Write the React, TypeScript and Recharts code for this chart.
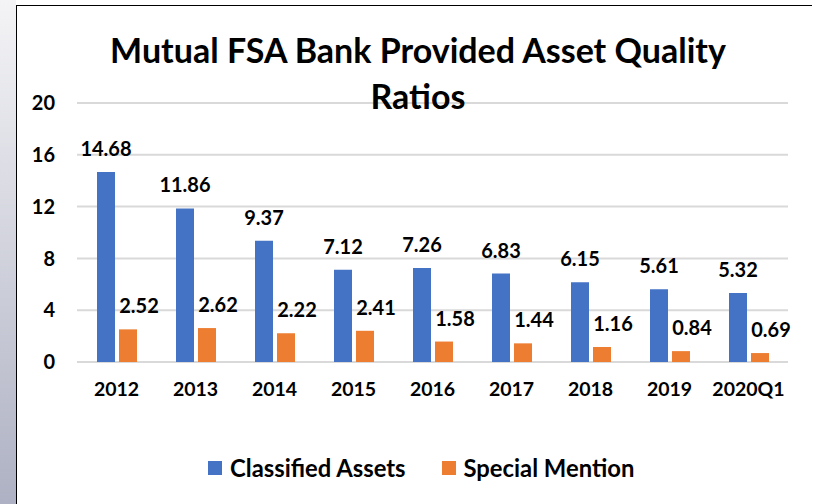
import React from 'react';
import { BarChart, Bar, XAxis, YAxis, CartesianGrid, LabelList } from 'recharts';

const years = ['2012', '2013', '2014', '2015', '2016', '2017', '2018', '2019', '2020Q1'];
const classifiedAssets = [14.68, 11.86, 9.37, 7.12, 7.26, 6.83, 6.15, 5.61, 5.32];
const specialMention = [2.52, 2.62, 2.22, 2.41, 1.58, 1.44, 1.16, 0.84, 0.69];
const yTicks = [0, 4, 8, 12, 16, 20];

const FONT = 'Lato, "Open Sans", sans-serif';
const BLUE = '#4472C4';
const ORANGE = '#ED7D31';

const data = years.map((y, i) => ({
  year: y,
  classified: classifiedAssets[i],
  special: specialMention[i],
}));

// label sits above the bar, orange ones a bit to the right like the original
const makeLabel = (shift: number) => (props: any) => {
  const { x, y, width, value } = props;
  return (
    <text
      x={x + width / 2 + shift}
      y={y - 24}
      textAnchor="middle"
      dominantBaseline="central"
      fontFamily={FONT}
      fontWeight={700}
      fontSize={20}
      fill="#000"
    >
      {value.toFixed(2)}
    </text>
  );
};

export default function App() {
  return (
    <div style={{ position: 'fixed', left: 0, top: 0, width: 813, height: 504, background: '#fff', overflow: 'hidden' }}>
      {/* grey strip on the left + frame */}
      <div
        style={{
          position: 'absolute', left: 0, top: 0, width: 16, height: 504,
          background: 'linear-gradient(#f4f4f6, #aeb1c3)',
        }}
      />
      <div style={{ position: 'absolute', left: 16, top: 5, width: 795, height: 510, borderLeft: '1.5px solid #000', borderTop: '1.5px solid #000' }} />

      <div style={{ position: 'absolute', left: 0, top: 0 }}>
        <BarChart
          width={813}
          height={504}
          data={data}
          margin={{ top: 103, right: 25, bottom: 112, left: 0 }}
          barGap={4}
          barSize={18}
        >
          <CartesianGrid vertical={false} stroke="#d9d9d9" strokeWidth={2} />
          <XAxis
            dataKey="year"
            height={30}
            axisLine={false}
            tickLine={false}
            tick={{ fontFamily: FONT, fontWeight: 700, fontSize: 19.5, fill: '#000' }}
            dy={12}
          />
          <YAxis
            width={77}
            domain={[0, 20]}
            ticks={yTicks}
            axisLine={false}
            tickLine={false}
            tickMargin={16}
            tick={{ fontFamily: FONT, fontWeight: 700, fontSize: 20, fill: '#000' }}
          />
          <Bar dataKey="classified" fill={BLUE} isAnimationActive={false}>
            <LabelList dataKey="classified" content={makeLabel(0)} />
          </Bar>
          <Bar dataKey="special" fill={ORANGE} isAnimationActive={false}>
            <LabelList dataKey="special" content={makeLabel(11)} />
          </Bar>
        </BarChart>
      </div>

      <div
        style={{
          position: 'absolute', left: 16, top: 27, width: 804, textAlign: 'center',
          fontFamily: FONT, fontWeight: 700, fontSize: 34, lineHeight: '46px', color: '#000',
        }}
      >
        Mutual FSA Bank Provided Asset Quality
        <br />
        Ratios
      </div>

      {/* legend */}
      <div
        style={{
          position: 'absolute', left: 208, top: 453, display: 'flex', alignItems: 'center',
          fontFamily: FONT, fontWeight: 700, fontSize: 23.8, lineHeight: '30px', color: '#000',
        }}
      >
        <span style={{ width: 14, height: 14, background: BLUE, display: 'inline-block', marginRight: 8 }} />
        <span>Classified Assets</span>
        <span style={{ width: 14, height: 14, background: ORANGE, display: 'inline-block', marginLeft: 36, marginRight: 8 }} />
        <span>Special Mention</span>
      </div>
    </div>
  );
}
